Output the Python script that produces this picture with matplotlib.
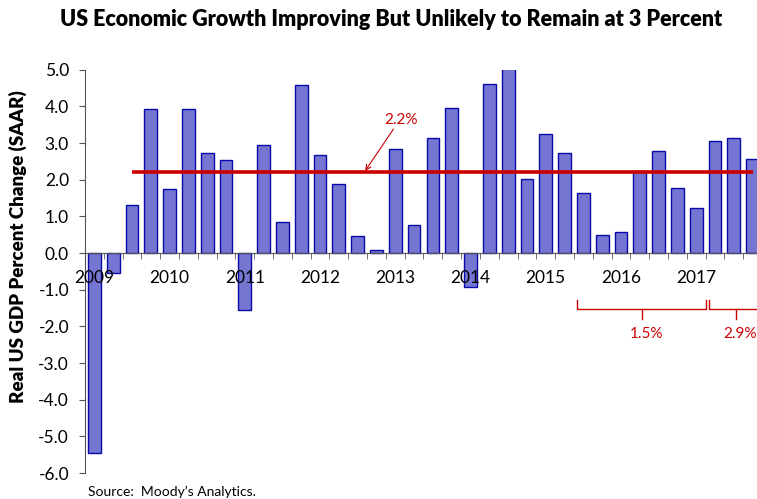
import matplotlib
matplotlib.use("Agg")
import matplotlib.pyplot as plt
import numpy as np

plt.rcParams['font.family'] = ['Lato', 'DejaVu Sans']

# ---- data ----
quarters = [f"{y}Q{q}" for y in range(2009, 2018) for q in range(1, 5)]
gdp_growth = [-5.45, -0.55, 1.32, 3.92,
              1.74, 3.92, 2.72, 2.55,
              -1.55, 2.94, 0.85, 4.59,
              2.68, 1.87, 0.47, 0.08,
              2.83, 0.77, 3.13, 3.96,
              -0.94, 4.62, 5.2, 2.02,
              3.24, 2.74, 1.63, 0.48,
              0.57, 2.25, 2.78, 1.76,
              1.24, 3.06, 3.15, 2.56]
year_labels = ["2009", "2010", "2011", "2012", "2013", "2014", "2015", "2016", "2017"]
avg_value = 2.2
avg_start, avg_end = "2009Q3", "2017Q4"
periods = [("2015Q3", "2017Q1", "1.5%"), ("2017Q2", "2017Q4", "2.9%")]

title = "US Economic Growth Improving But Unlikely to Remain at 3 Percent"
ylabel = "Real US GDP Percent Change (SAAR)"
source = "Source:  Moody\u2019s Analytics."

RED = "#cc0000"

fig = plt.figure(figsize=(7.57, 4.99), dpi=100)
ax = fig.add_axes([85/757, 26/499, 677/757, 403.3/499])

x = np.arange(len(quarters)) + 0.5
ax.bar(x, gdp_growth, width=0.68, color="#7575d2", edgecolor="#0a0aa8",
       linewidth=1.0, zorder=2)

ax.set_xlim(0, len(quarters))
ax.set_ylim(-6, 5)
ax.set_yticks(np.arange(-6, 5.1, 1.0))
ax.set_yticklabels([f"{v:.1f}" for v in np.arange(-6, 5.1, 1.0)], fontsize=12.5)

for s in ["top", "right"]:
    ax.spines[s].set_visible(False)
ax.spines["bottom"].set_position(("data", 0))
ax.spines["left"].set_color("#555555")
ax.spines["bottom"].set_color("#555555")
ax.spines["bottom"].set_zorder(3)
ax.xaxis.set_zorder(5)

ax.set_xticks(np.arange(0.5, len(quarters), 4))
ax.set_xticklabels(year_labels, fontsize=12.5)
ax.set_xticks(np.arange(1, len(quarters)), minor=True)
ax.tick_params(axis="x", which="major", length=0, pad=12.5)
ax.tick_params(axis="x", which="minor", length=4.5, color="#555555", direction="out")
ax.tick_params(axis="y", length=4.5, color="#555555", direction="out", pad=7)

# average line
i0 = quarters.index(avg_start)
i1 = quarters.index(avg_end)
ax.plot([x[i0], x[i1]], [avg_value, avg_value], color=RED, lw=2.6, zorder=4,
        solid_capstyle="butt")
ax.text(16.8, 3.63, f"{avg_value:.1f}%", color=RED, fontsize=11,
        ha="center", va="center")
ax.annotate("", xy=(14.9, avg_value + 0.04), xytext=(16.4, 3.38),
            arrowprops=dict(arrowstyle="->", color=RED, lw=0.8,
                            mutation_scale=9, shrinkA=0, shrinkB=0))

# period brackets
ytop, yh, ybot = -1.28, -1.53, -1.80
for start, end, lab in periods:
    a = quarters.index(start)
    b = quarters.index(end) + 1
    xa, xb = a + 0.17, b + 0.03
    xm = (xa + xb) / 2
    ax.plot([xa, xa, xb, xb], [ytop, yh, yh, ytop], color=RED, lw=1.0,
            clip_on=False)
    ax.plot([xm, xm], [yh, ybot], color=RED, lw=1.0, clip_on=False)
    ax.text(xm + 0.25, -2.21, lab, color=RED, fontsize=11, ha="center",
            va="center", clip_on=False)

fig.text(391/757, 1 - 20/499, title, fontsize=15.5, fontweight="heavy",
         ha="center", va="center")
fig.text(18/757, 1 - 247/499, ylabel, fontsize=13.5, fontweight="heavy",
         rotation=90, ha="center", va="center")
fig.text(88/757, 1 - 492/499, source, fontsize=10, ha="left", va="center")

fig.savefig("out.png", dpi=100)
